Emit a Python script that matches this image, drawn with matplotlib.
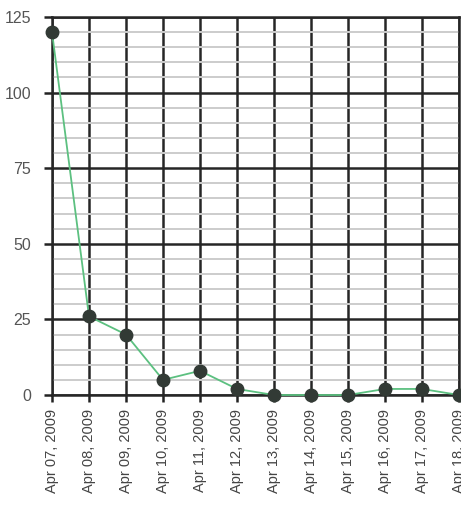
import matplotlib
matplotlib.use("Agg")
import matplotlib.pyplot as plt
from matplotlib.ticker import MultipleLocator

dates = ["Apr 07, 2009", "Apr 08, 2009", "Apr 09, 2009", "Apr 10, 2009",
         "Apr 11, 2009", "Apr 12, 2009", "Apr 13, 2009", "Apr 14, 2009",
         "Apr 15, 2009", "Apr 16, 2009", "Apr 17, 2009", "Apr 18, 2009"]
values = [120, 26, 20, 5, 8, 2, 0, 0, 0, 2, 2, 0]
y_ticks = [0, 25, 50, 75, 100, 125]

plt.rcParams['font.family'] = ['Liberation Sans', 'DejaVu Sans']

fig = plt.figure(figsize=(4.61, 5.08), dpi=100)
ax = fig.add_axes([52/461, 1-395/508, (459-52)/461, (395-17)/508])

x = list(range(len(dates)))
ax.set_xlim(0, len(dates)-1)
ax.set_ylim(0, 125)

ax.yaxis.set_minor_locator(MultipleLocator(5))
ax.set_yticks(y_ticks)
ax.set_xticks(x)
ax.set_xticklabels(dates, rotation=90, fontsize=10.5, color='#444444')
ax.tick_params(axis='y', labelsize=11.5, length=6, width=1.8, color='#222222', pad=9)
ax.tick_params(axis='y', which='minor', length=0)
ax.tick_params(axis='x', length=5, width=1.8, color='#222222', pad=5)
for lab in ax.get_xticklabels():
    lab.set_color('#444444')
for lab in ax.get_yticklabels():
    lab.set_color('#555555')

ax.grid(which='minor', axis='y', color='#cccccc', linewidth=1.4)
ax.grid(which='major', axis='y', color='#262626', linewidth=1.8)
ax.grid(which='major', axis='x', color='#262626', linewidth=1.8)
ax.set_axisbelow(True)

for s in ['left', 'bottom', 'top', 'right']:
    ax.spines[s].set_color('#262626')
    ax.spines[s].set_linewidth(1.8)

ax.plot(x, values, color='#5cc080', linewidth=1.3, zorder=3, clip_on=False)
ax.plot(x, values, linestyle='none', marker='o', markersize=9,
        color='#323a35', zorder=4, clip_on=False)

fig.savefig("out.png", dpi=100)
